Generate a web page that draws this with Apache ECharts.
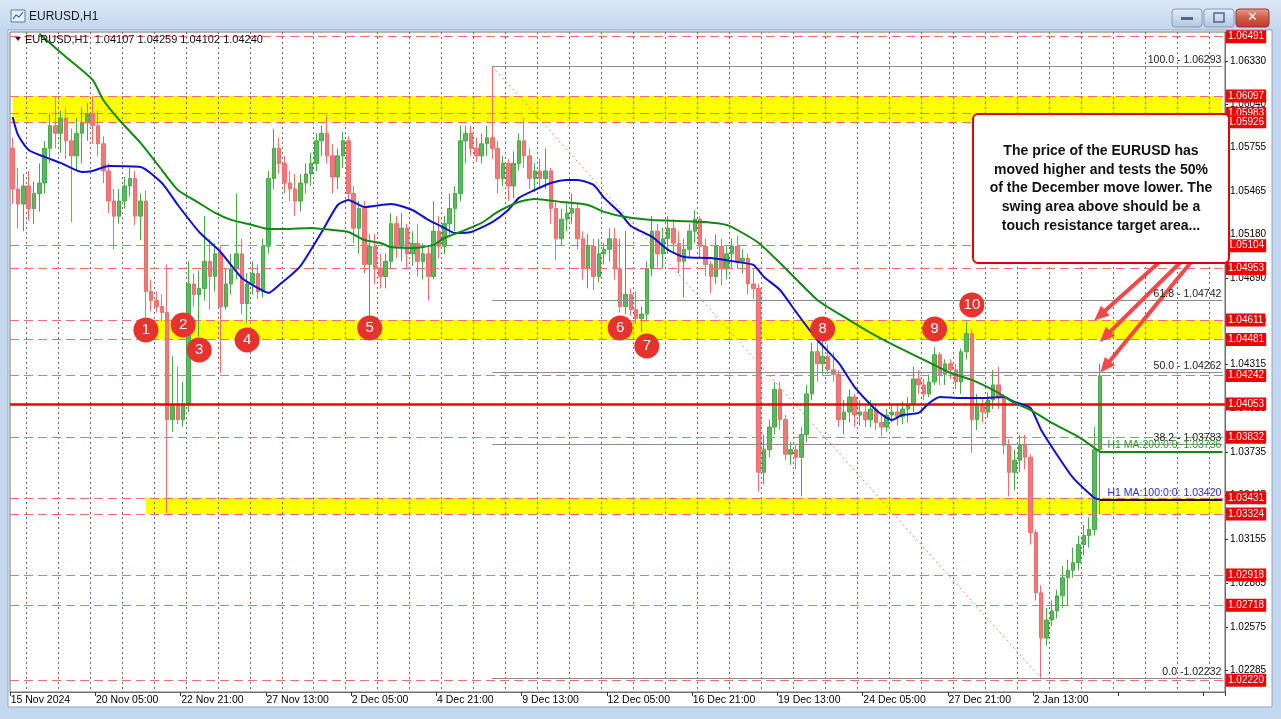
<!DOCTYPE html>
<html>
<head>
<meta charset="utf-8">
<title>EURUSD,H1</title>
<script src="https://cdn.jsdelivr.net/npm/echarts@6/dist/echarts.min.js"></script>
<style>
  html, body { margin: 0; padding: 0; background: #c3d7ee; }
  #chart { width: 1281px; height: 719px; }
</style>
</head>
<body>
<div id="chart"></div>
<script>
// ---- EURUSD H1, shown as 4-hour candles ----
const symbolTitle = 'EURUSD,H1';
const lastBarText = 'EURUSD,H1  1.04107 1.04259 1.04102 1.04240';

// time-axis labels, one every 16 bars
const dateLabels = ['15 Nov 2024', '20 Nov 05:00', '22 Nov 21:00', '27 Nov 13:00', '2 Dec 05:00',
  '4 Dec 21:00', '9 Dec 13:00', '12 Dec 05:00', '16 Dec 21:00', '19 Dec 13:00', '24 Dec 05:00',
  '27 Dec 21:00', '2 Jan 13:00'];

// price scale labels on the right
const priceTicks = [1.06330, 1.06040, 1.05755, 1.05465, 1.05180, 1.04890, 1.04600, 1.04315,
  1.04025, 1.03735, 1.03445, 1.03155, 1.02865, 1.02575, 1.02285];

// [open, close, low, high]
const candles = [
  [1.0575,1.0548,1.0538,1.0582],[1.0548,1.0538,1.0522,1.0562],[1.0538,1.0550,1.0520,1.0558],[1.0550,1.0535,1.0527,1.0560],
  [1.0535,1.0545,1.0525,1.0553],[1.0545,1.0552,1.0533,1.0565],[1.0552,1.0575,1.0545,1.0580],[1.0575,1.0590,1.0565,1.0598],
  [1.0590,1.0585,1.0575,1.0609],[1.0585,1.0595,1.0572,1.0600],[1.0595,1.0580,1.0568,1.0602],[1.0580,1.0570,1.0526,1.0588],
  [1.0570,1.0585,1.0560,1.0595],[1.0585,1.0592,1.0565,1.0602],[1.0592,1.0598,1.0580,1.0605],[1.0598,1.0590,1.0578,1.0610],
  [1.0590,1.0578,1.0570,1.0600],[1.0578,1.0560,1.0552,1.0583],[1.0560,1.0540,1.0532,1.0565],[1.0540,1.0530,1.0508,1.0548],
  [1.0530,1.0540,1.0525,1.0548],[1.0540,1.0550,1.0535,1.0556],[1.0550,1.0555,1.0543,1.0562],[1.0555,1.0530,1.0524,1.0560],
  [1.0530,1.0540,1.0514,1.0545],[1.0540,1.0480,1.0463,1.0547],[1.0480,1.0474,1.0467,1.0488],[1.0474,1.0470,1.0466,1.0480],
  [1.0470,1.0466,1.0460,1.0478],[1.0466,1.0395,1.0333,1.0498],[1.0395,1.0405,1.0387,1.0437],[1.0405,1.0395,1.0392,1.0430],
  [1.0395,1.0405,1.0390,1.0420],[1.0405,1.0485,1.0400,1.0500],[1.0485,1.0478,1.0470,1.0492],[1.0478,1.0482,1.0450,1.0494],
  [1.0482,1.0500,1.0474,1.0530],[1.0500,1.0490,1.0468,1.0515],[1.0490,1.0505,1.0480,1.0512],[1.0505,1.0470,1.0426,1.0510],
  [1.0470,1.0485,1.0468,1.0495],[1.0485,1.0495,1.0478,1.0505],[1.0495,1.0505,1.0488,1.0545],[1.0505,1.0472,1.0465,1.0515],
  [1.0472,1.0485,1.0459,1.0492],[1.0485,1.0492,1.0478,1.0500],[1.0492,1.0480,1.0475,1.0498],[1.0480,1.0510,1.0476,1.0515],
  [1.0510,1.0555,1.0505,1.0560],[1.0555,1.0575,1.0548,1.0588],[1.0575,1.0565,1.0558,1.0582],[1.0565,1.0552,1.0545,1.0570],
  [1.0552,1.0548,1.0540,1.0560],[1.0548,1.0540,1.0530,1.0558],[1.0540,1.0552,1.0533,1.0558],[1.0552,1.0558,1.0545,1.0565],
  [1.0558,1.0565,1.0550,1.0572],[1.0565,1.0580,1.0560,1.0585],[1.0580,1.0585,1.0570,1.0590],[1.0585,1.0570,1.0565,1.0597],
  [1.0570,1.0556,1.0545,1.0578],[1.0556,1.0570,1.0548,1.0575],[1.0570,1.0580,1.0562,1.0586],[1.0580,1.0545,1.0540,1.0583],
  [1.0545,1.0522,1.0512,1.0550],[1.0522,1.0535,1.0505,1.0540],[1.0535,1.0498,1.0492,1.0540],[1.0498,1.0510,1.0463,1.0518],
  [1.0510,1.0495,1.0485,1.0518],[1.0495,1.0490,1.0482,1.0505],[1.0490,1.0500,1.0482,1.0505],[1.0500,1.0525,1.0495,1.0532],
  [1.0525,1.0510,1.0502,1.0530],[1.0510,1.0522,1.0500,1.0532],[1.0522,1.0505,1.0495,1.0525],[1.0505,1.0512,1.0497,1.0520],
  [1.0512,1.0500,1.0490,1.0525],[1.0500,1.0505,1.0488,1.0512],[1.0505,1.0490,1.0474,1.0510],[1.0490,1.0520,1.0488,1.0540],
  [1.0520,1.0510,1.0502,1.0530],[1.0510,1.0525,1.0505,1.0530],[1.0525,1.0535,1.0518,1.0545],[1.0535,1.0545,1.0520,1.0550],
  [1.0545,1.0580,1.0540,1.0590],[1.0580,1.0585,1.0565,1.0590],[1.0585,1.0575,1.0570,1.0590],[1.0575,1.0570,1.0566,1.0582],
  [1.0570,1.0578,1.0565,1.0585],[1.0578,1.0582,1.0570,1.0590],[1.0582,1.0575,1.0568,1.06293],[1.0575,1.0555,1.0545,1.0580],
  [1.0555,1.0565,1.0550,1.0570],[1.0565,1.0550,1.0540,1.0568],[1.0550,1.0565,1.0542,1.0573],[1.0565,1.0580,1.0560,1.0585],
  [1.0580,1.0570,1.0562,1.0595],[1.0570,1.0555,1.0548,1.0575],[1.0555,1.0560,1.0546,1.0565],[1.0560,1.0555,1.0548,1.0568],
  [1.0555,1.0560,1.0548,1.0575],[1.0560,1.0535,1.0525,1.0562],[1.0535,1.0515,1.0501,1.0540],[1.0515,1.0528,1.0510,1.0535],
  [1.0528,1.0532,1.0520,1.0540],[1.0532,1.0535,1.0525,1.0545],[1.0535,1.0515,1.0508,1.0538],[1.0515,1.0495,1.0488,1.0520],
  [1.0495,1.0510,1.0482,1.0518],[1.0510,1.0490,1.0481,1.0515],[1.0490,1.0505,1.0486,1.0515],[1.0505,1.0508,1.0498,1.0512],
  [1.0508,1.0515,1.0500,1.0522],[1.0515,1.0495,1.0488,1.0522],[1.0495,1.0470,1.0466,1.0515],[1.0470,1.0478,1.0465,1.0520],
  [1.0478,1.0468,1.0464,1.0482],[1.0468,1.0462,1.0458,1.0480],[1.0462,1.0465,1.0453,1.0470],[1.0465,1.0495,1.0460,1.0500],
  [1.0495,1.0520,1.0490,1.0530],[1.0520,1.0505,1.0496,1.0525],[1.0505,1.0515,1.0495,1.0522],[1.0515,1.0522,1.0505,1.0530],
  [1.0522,1.0512,1.0505,1.0528],[1.0512,1.0500,1.0492,1.0520],[1.0500,1.0508,1.0476,1.0515],[1.0508,1.0520,1.0503,1.0525],
  [1.0520,1.0528,1.0512,1.0534],[1.0528,1.0510,1.0502,1.0530],[1.0510,1.0498,1.0490,1.0515],[1.0498,1.0490,1.0479,1.0500],
  [1.0490,1.0510,1.0485,1.0518],[1.0510,1.0495,1.0484,1.0515],[1.0495,1.0505,1.0488,1.0510],[1.0505,1.0510,1.0495,1.0515],
  [1.0510,1.0500,1.0495,1.0517],[1.0500,1.0502,1.0492,1.0508],[1.0502,1.0485,1.0478,1.0505],[1.0485,1.0482,1.0475,1.0495],
  [1.0482,1.0360,1.0347,1.0485],[1.0360,1.0375,1.0352,1.0385],[1.0375,1.0390,1.0370,1.0395],[1.0390,1.0415,1.0385,1.0420],
  [1.0415,1.0395,1.0388,1.0420],[1.0395,1.0372,1.0368,1.0398],[1.0372,1.0375,1.0365,1.0380],[1.0375,1.0370,1.0362,1.0378],
  [1.0370,1.0385,1.0344,1.0390],[1.0385,1.0412,1.0380,1.0418],[1.0412,1.0440,1.0408,1.0446],[1.0440,1.0432,1.0420,1.0447],
  [1.0432,1.0437,1.0425,1.0447],[1.0437,1.0428,1.0425,1.0445],[1.0428,1.0425,1.0420,1.0440],[1.0425,1.0395,1.0390,1.0428],
  [1.0395,1.0400,1.0385,1.0408],[1.0400,1.0410,1.0393,1.0415],[1.0410,1.0398,1.0390,1.0412],[1.0398,1.0400,1.0391,1.0408],
  [1.0400,1.0395,1.0390,1.0405],[1.0395,1.0402,1.0390,1.0408],[1.0402,1.0393,1.0388,1.0405],[1.0393,1.0390,1.0384,1.0398],
  [1.0390,1.0398,1.0387,1.0402],[1.0398,1.0400,1.0393,1.0405],[1.0400,1.0397,1.0391,1.0405],[1.0397,1.0402,1.0392,1.0407],
  [1.0402,1.0405,1.0393,1.0410],[1.0405,1.0422,1.0400,1.0430],[1.0422,1.0418,1.0412,1.0428],[1.0418,1.0412,1.0408,1.0422],
  [1.0412,1.0420,1.0410,1.0425],[1.0420,1.0438,1.0418,1.0443],[1.0438,1.0425,1.0418,1.0440],[1.0425,1.0432,1.0418,1.0435],
  [1.0432,1.0428,1.0422,1.0435],[1.0428,1.0420,1.0415,1.0432],[1.0420,1.0440,1.0412,1.0442],[1.0440,1.0452,1.0435,1.0460],
  [1.0452,1.0395,1.0373,1.0455],[1.0395,1.0405,1.0388,1.0412],[1.0405,1.0400,1.0393,1.0410],[1.0400,1.0408,1.0396,1.0413],
  [1.0408,1.0418,1.0402,1.0428],[1.0418,1.0410,1.0402,1.0430],[1.0410,1.0378,1.0372,1.0412],[1.0378,1.0360,1.0344,1.0382],
  [1.0360,1.0368,1.0348,1.0375],[1.0368,1.0378,1.0360,1.0385],[1.0378,1.0370,1.0362,1.0385],[1.0370,1.0320,1.0312,1.0372],
  [1.0320,1.0280,1.0275,1.0322],[1.0280,1.0250,1.02232,1.0285],[1.0250,1.0262,1.0245,1.0270],[1.0262,1.0268,1.0258,1.0275],
  [1.0268,1.0278,1.0263,1.0282],[1.0278,1.0290,1.0270,1.0298],[1.0290,1.0295,1.0272,1.0302],[1.0295,1.0300,1.0290,1.0310],
  [1.0300,1.0312,1.0295,1.0318],[1.0312,1.0318,1.0305,1.0325],[1.0318,1.0322,1.0310,1.0330],[1.0322,1.0375,1.0318,1.0390],
  [1.0375,1.0424,1.0332,1.0432]
];

// moving averages, sampled as [bar index, value]
const ma100 = [[0,1.05958],[1,1.05839],[3,1.05739],[6,1.05693],[9,1.05653],[13,1.05593],[15,1.05600],[18,1.05633],
  [24,1.05626],[28,1.05520],[31,1.05374],[35,1.05195],[39,1.05062],[43,1.04890],[46,1.04823],[48,1.04790],[50,1.04843],
  [54,1.04969],[58,1.05195],[61,1.05374],[63,1.05407],[66,1.05361],[71,1.05381],[75,1.05341],[78,1.05275],[81,1.05222],
  [83,1.05188],[86,1.05195],[90,1.05261],[93,1.05341],[95,1.05421],[98,1.05474],[101,1.05520],[104,1.05540],[106,1.05540],
  [109,1.05507],[111,1.05421],[114,1.05321],[116,1.05235],[120,1.05162],[123,1.05076],[126,1.05029],[131,1.05022],
  [136,1.04996],[139,1.04976],[141,1.04896],[144,1.04810],[147,1.04664],[151,1.04478],[155,1.04326],[158,1.04166],
  [162,1.04014],[165,1.03947],[167,1.03981],[170,1.03994],[172,1.04060],[174,1.04100],[178,1.04093],[182,1.04093],
  [186,1.04100],[188,1.04067],[191,1.04027],[193,1.03881],[196,1.03715],[199,1.03563],[203,1.03430],[204,1.03420]];
const ma200 = [[5,1.06510],[10,1.06356],[15,1.06204],[17,1.06071],[20,1.05938],[24,1.05786],[28,1.05606],[31,1.05474],
  [35,1.05387],[38,1.05321],[41,1.05275],[45,1.05241],[48,1.05215],[51,1.05215],[56,1.05222],[60,1.05208],[63,1.05195],
  [66,1.05142],[69,1.05122],[71,1.05095],[75,1.05089],[79,1.05109],[81,1.05155],[84,1.05195],[88,1.05255],[91,1.05328],
  [95,1.05394],[98,1.05414],[103,1.05394],[108,1.05374],[111,1.05328],[115,1.05294],[120,1.05275],[125,1.05268],
  [130,1.05261],[134,1.05241],[136,1.05208],[140,1.05122],[144,1.04989],[151,1.04744],[156,1.04631],[161,1.04525],
  [166,1.04432],[171,1.04346],[176,1.04259],[180,1.04213],[185,1.04127],[188,1.04060],[191,1.04014],[195,1.03928],
  [200,1.03835],[204,1.03736]];
const ma100Last = 1.03420;
const ma200Last = 1.03736;

// horizontal levels
const levelLines = [1.06491, 1.06097, 1.05983, 1.05926, 1.05104, 1.04953, 1.04611, 1.04481, 1.04242,
  1.03832, 1.03431, 1.03324, 1.02918, 1.02718, 1.02220];
const keyLevel = 1.04053;

// yellow zones: [top, bottom, first bar]
const zones = [[1.06097, 1.05926, 0], [1.04611, 1.04481, 24], [1.03431, 1.03324, 25]];

// Fibonacci retracement of the December move (high bar 90, low bar 193)
const fibHighBar = 90, fibLowBar = 193;
const fibLevels = [['100.0 - ', 1.06293], ['61.8 - ', 1.04742], ['50.0 - ', 1.04262], ['38.2 - ', 1.03783], ['0.0 -', 1.02232]];

// numbered touches of the swing area: [bar, price, number]
const touches = [[25.4,1.04545,'1'],[32.3,1.04578,'2'],[34.6,1.04412,'3'],[43.6,1.04478,'4'],[67,1.04558,'5'],
  [114.4,1.04558,'6'],[118.6,1.04438,'7'],[151.9,1.04551,'8'],[173.3,1.04551,'9'],[179.7,1.04711,'10']];

// note box and its arrows ([from bar, from price] -> [to bar, to price])
const noteLines = ['The price of the EURUSD has', 'moved higher and tests the 50%', 'of the December move lower. The',
  'swing area above should be a', 'touch resistance target area...'];
const arrows = [[[214.8,1.04989],[203.6,1.04640]], [[218.5,1.04989],[204.8,1.04500]], [[221.2,1.04989],[205.4,1.04300]]];

const slotCount = 228;
const slots = Array.from({ length: slotCount }, (_, i) => String(i));

const FONT = 'Liberation Sans, Arial, sans-serif';
const BAND_EVERY = 16;
const PREC = 5;

const chart = echarts.init(document.getElementById('chart'), null, { renderer: 'canvas' });

const boxLabel = text => ({
  show: true, position: 'end', distance: 1, formatter: text,
  color: '#fff', backgroundColor: '#f00000', padding: [2, 2, 1, 2], fontSize: 10, fontFamily: FONT
});

const levelMarks = levelLines.map(v => ({
  yAxis: v,
  lineStyle: { color: '#f07070', width: 1, type: [9, 5] },
  label: boxLabel(v.toFixed(5))
}));

const fibMarks = fibLevels.map(([lvl, v]) => [
  { coord: [fibHighBar, v], lineStyle: { color: '#8c8c8c', width: 1, type: 'solid' },
    label: { show: true, position: 'insideEndTop', formatter: lvl + v.toFixed(5), color: '#222', fontSize: 10.5, fontFamily: FONT, distance: 1 } },
  { coord: [slotCount - 1, v] }
]);
fibMarks.push([
  { coord: [fibHighBar, fibLevels[0][1]], lineStyle: { color: '#f07a7a', width: 1, type: [2, 3] }, label: { show: false } },
  { coord: [fibLowBar, fibLevels[fibLevels.length - 1][1]] }
]);

const option = {
  animation: false,
  backgroundColor: '#c3d7ee',
  grid: { left: 10, right: 56, top: 32, bottom: 27, show: true, borderColor: '#6e6e6e', borderWidth: 1 },
  xAxis: {
    type: 'category', data: slots, boundaryGap: true, z: 2,
    axisLine: { show: true, lineStyle: { color: '#6e6e6e' } },
    axisTick: { show: true, interval: i => i % BAND_EVERY === 0, length: 4, lineStyle: { color: '#333' } },
    axisLabel: {
      show: true, interval: i => i % BAND_EVERY === 0, align: 'left', margin: 3,
      formatter: (v, i) => dateLabels[Math.round(i / BAND_EVERY)] || '',
      color: '#000', fontSize: 10.5, fontFamily: FONT, padding: [0, 0, 0, -2]
    },
    splitLine: { show: true, interval: i => i >= 3 && (i - 3) % 6 === 0, lineStyle: { color: '#6a6a6a', type: [2, 3], width: 1 } }
  },
  yAxis: {
    type: 'value', position: 'right', min: 1.02142, max: 1.06522, scale: true,
    axisLine: { show: true, lineStyle: { color: '#6e6e6e' } },
    axisTick: { show: true, customValues: priceTicks, length: 3, lineStyle: { color: '#333' } },
    axisLabel: { show: true, customValues: priceTicks, formatter: v => v.toFixed(5), color: '#000', fontSize: 10, fontFamily: FONT, margin: 5 },
    splitLine: { show: false }
  },
  series: [
    {
      name: 'zones', type: 'line', data: [], z: 1, silent: true,
      markArea: {
        silent: true, itemStyle: { color: '#ffff00' },
        data: zones.map(([top, bottom, start]) => [{ xAxis: start, yAxis: top }, { xAxis: slotCount - 1, yAxis: bottom }])
      }
    },
    {
      name: 'levels', type: 'line', data: [], z: 3, silent: true,
      markLine: { silent: true, precision: PREC, symbol: ['none', 'none'], data: levelMarks }
    },
    {
      name: 'fib', type: 'line', data: [], z: 3, silent: true,
      markLine: { silent: true, precision: PREC, symbol: ['none', 'none'], data: fibMarks }
    },
    {
      name: 'EURUSD', type: 'candlestick', data: candles, z: 4, barWidth: 4,
      itemStyle: { color: '#5cb85c', color0: '#f07a7a', borderColor: '#4aa84a', borderColor0: '#ee6e6e', borderWidth: 1 }
    },
    {
      name: 'MA100', type: 'line', data: ma100, z: 5, symbol: 'none', smooth: 0.2,
      lineStyle: { color: '#1010d0', width: 2 },
      markLine: {
        silent: true, precision: PREC, symbol: ['none', 'none'],
        data: [[
          { coord: [204, ma100Last], lineStyle: { color: '#2a1030', width: 2, type: 'solid' },
            label: { show: true, position: 'insideEndTop', formatter: 'H1 MA:100:0:0: ' + ma100Last.toFixed(5), color: '#2b2bd8', fontSize: 10.5, fontFamily: FONT, distance: 1 } },
          { coord: [slotCount - 1, ma100Last] }
        ]]
      }
    },
    {
      name: 'MA200', type: 'line', data: ma200, z: 5, symbol: 'none', smooth: 0.2,
      lineStyle: { color: '#118a11', width: 2 },
      markLine: {
        silent: true, precision: PREC, symbol: ['none', 'none'],
        data: [[
          { coord: [204, ma200Last], lineStyle: { color: '#118a11', width: 2, type: 'solid' },
            label: { show: true, position: 'insideEndTop', formatter: 'H1 MA:200:0:0: ' + ma200Last.toFixed(5), color: '#2c9a2c', fontSize: 10.5, fontFamily: FONT, distance: 1 } },
          { coord: [slotCount - 1, ma200Last] }
        ]]
      }
    },
    {
      name: 'key', type: 'line', data: [], z: 6, silent: true,
      markLine: {
        silent: true, precision: PREC, symbol: ['none', 'none'],
        data: [{ yAxis: keyLevel, lineStyle: { color: '#f00000', width: 2.5, type: 'solid' }, label: boxLabel(keyLevel.toFixed(5)) }]
      }
    },
    {
      name: 'touches', type: 'scatter', z: 7, symbol: 'circle', symbolSize: 25,
      data: touches.map(([x, y, n]) => ({ value: [x, y], name: n })),
      itemStyle: { color: '#e8322e', opacity: 1 },
      label: { show: true, position: 'inside', formatter: p => p.name, color: '#fff', fontSize: 15, fontFamily: FONT }
    },
    {
      name: 'arrows', type: 'line', data: [], z: 9, silent: true,
      markLine: {
        silent: true, precision: PREC, symbol: ['none', 'triangle'], symbolSize: [13, 15],
        lineStyle: { color: '#f24848', width: 4, type: 'solid' },
        label: { show: false },
        data: arrows.map(([a, b]) => [{ coord: a }, { coord: b }])
      }
    }
  ],
  graphic: [
    // window chrome
    { type: 'rect', z: -20, shape: { x: 0, y: 0, width: 1281, height: 31 },
      style: { fill: new echarts.graphic.LinearGradient(0, 0, 0, 1, [{ offset: 0, color: '#dce8f6' }, { offset: 1, color: '#c2d6ec' }]) } },
    { type: 'rect', z: -19, shape: { x: 8, y: 30, width: 1264, height: 677 }, style: { fill: '#ffffff', stroke: '#8fa8c4', lineWidth: 1 } },
    { type: 'rect', z: -18, shape: { x: 11, y: 10, width: 14, height: 12 }, style: { fill: '#e8f0f8', stroke: '#5a7fa8', lineWidth: 1 } },
    { type: 'polyline', z: -17, shape: { points: [[13, 19], [16, 15], [19, 17], [23, 12]] }, style: { stroke: '#2a62b0', lineWidth: 1.2, fill: null } },
    { type: 'text', z: -17, x: 29, y: 17, style: { text: symbolTitle, font: '12px ' + FONT, fill: '#1a1a1a', textVerticalAlign: 'middle' } },
    // window buttons
    { type: 'rect', z: -17, shape: { x: 1172, y: 9, width: 30, height: 18, r: 3 },
      style: { fill: new echarts.graphic.LinearGradient(0, 0, 0, 1, [{ offset: 0, color: '#e4edf7' }, { offset: 1, color: '#b2c7df' }]), stroke: '#7f9bbd' } },
    { type: 'rect', z: -16, shape: { x: 1181, y: 17, width: 12, height: 3 }, style: { fill: '#4b6a92' } },
    { type: 'rect', z: -17, shape: { x: 1204, y: 9, width: 30, height: 18, r: 3 },
      style: { fill: new echarts.graphic.LinearGradient(0, 0, 0, 1, [{ offset: 0, color: '#e4edf7' }, { offset: 1, color: '#b2c7df' }]), stroke: '#7f9bbd' } },
    { type: 'rect', z: -16, shape: { x: 1214, y: 13, width: 10, height: 9 }, style: { fill: 'none', stroke: '#4b6a92', lineWidth: 1.5 } },
    { type: 'rect', z: -17, shape: { x: 1236, y: 9, width: 33, height: 18, r: 3 },
      style: { fill: new echarts.graphic.LinearGradient(0, 0, 0, 1, [{ offset: 0, color: '#e8a090' }, { offset: 0.5, color: '#cf5a48' }, { offset: 1, color: '#c0392b' }]), stroke: '#8e3a30' } },
    { type: 'text', z: -16, x: 1252.5, y: 18, style: { text: '✕', font: 'bold 13px DejaVu Sans', fill: '#fff', textAlign: 'center', textVerticalAlign: 'middle' } },
    // last bar readout
    { type: 'polygon', z: 20, shape: { points: [[15, 37], [21, 37], [18, 41]] }, style: { fill: '#222' } },
    { type: 'text', z: 20, x: 25, y: 40, style: { text: lastBarText, font: '11px ' + FONT, fill: '#111', textVerticalAlign: 'middle' } },
    // note box
    { type: 'rect', z: 8, shape: { x: 973, y: 114, width: 256, height: 149, r: 5 }, style: { fill: '#ffffff', stroke: '#e00000', lineWidth: 2 } },
    { type: 'text', z: 8, x: 1101, y: 188.5,
      style: { text: noteLines.join('\n'), font: 'bold 14px ' + FONT, fill: '#111', textAlign: 'center', textVerticalAlign: 'middle', lineHeight: 18.6 } }
  ]
};

chart.setOption(option);
</script>
</body>
</html>
